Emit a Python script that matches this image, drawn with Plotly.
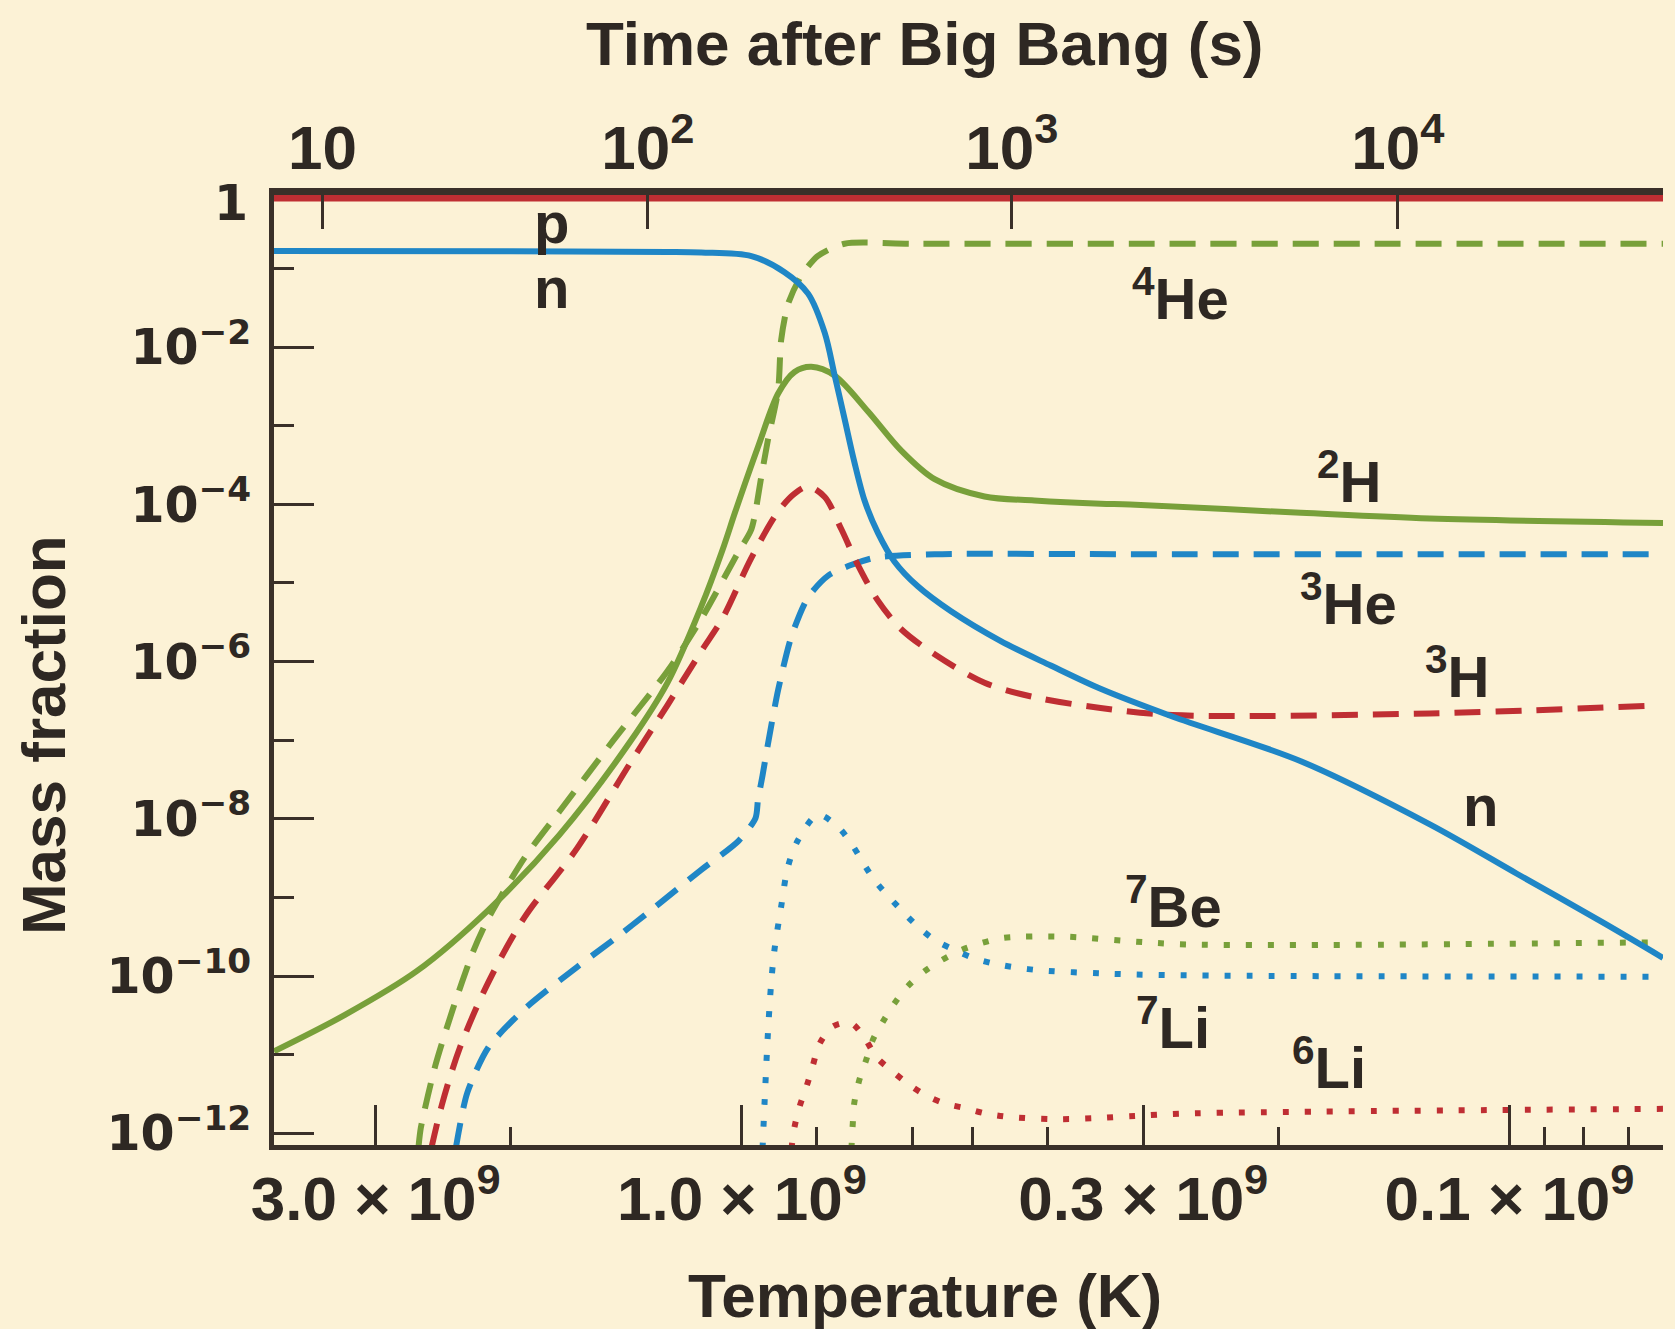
import math
import plotly.graph_objects as go

# ---------------- data (temperature in units of 1e9 K, mass fraction) ----------------
p_T9 = [4.07, 0.0631]
p_X = [0.79, 0.79]

n_T9 = [4.07, 2.0, 1.25, 1.13, 0.972, 0.880, 0.820, 0.780, 0.757, 0.735, 0.714, 0.692, 0.665,
        0.633, 0.590, 0.534, 0.460, 0.396, 0.341, 0.275, 0.187, 0.127, 0.0978, 0.0756, 0.0631]
n_X = [0.167, 0.166, 0.163, 0.160, 0.144, 0.0899, 0.0480, 0.0152, 4.34e-3, 1.23e-3, 3.52e-4,
       1.11e-4, 4.34e-5, 1.88e-5, 9.06e-6, 4.36e-6, 1.82e-6, 8.9e-7, 4.5e-7, 2.0e-7, 5.4e-8,
       8.5e-9, 2.0e-9, 4.8e-10, 1.7e-10]

he4_T9 = [2.64, 2.62, 2.51, 2.38, 2.24, 2.14, 1.92, 1.73, 1.47, 1.25, 1.13, 1.01, 0.972, 0.943,
          0.925, 0.897, 0.889, 0.871, 0.837, 0.796, 0.735, 0.60, 0.30, 0.15, 0.0631]
he4_X = [6.3e-13, 1.17e-12, 7.1e-12, 3.8e-11, 2.04e-10, 5.4e-10, 3.18e-9, 1.23e-8, 1.0e-7, 7.6e-7,
         3.47e-6, 2.51e-5, 4.82e-5, 2.32e-4, 6.6e-4, 2.85e-3, 0.0123, 0.0351, 0.0811, 0.145,
         0.207, 0.207, 0.207, 0.207, 0.207]

h2_T9 = [4.07, 3.29, 2.65, 2.14, 1.73, 1.40, 1.25, 1.13, 1.06, 1.02, 0.953, 0.897, 0.854, 0.812,
         0.757, 0.685, 0.620, 0.561, 0.483, 0.416, 0.341, 0.312, 0.187, 0.127, 0.0631]
h2_X = [1.10e-11, 3.2e-11, 1.16e-10, 6.9e-10, 6.2e-9, 9.4e-8, 5.4e-7, 5.0e-6, 2.63e-5, 8.1e-5,
        5.37e-4, 2.57e-3, 4.83e-3, 5.62e-3, 4.34e-3, 1.52e-3, 4.82e-4, 2.09e-4, 1.26e-4, 1.12e-4,
        1.02e-4, 1.0e-4, 7.8e-5, 6.6e-5, 5.8e-5]

h3_T9 = [2.54, 2.46, 2.33, 2.14, 1.92, 1.64, 1.40, 1.25, 1.13, 1.06, 0.972, 0.897, 0.854, 0.820,
         0.780, 0.742, 0.706, 0.665, 0.620, 0.561, 0.483, 0.416, 0.341, 0.275, 0.127, 0.0656]
h3_X = [6.3e-13, 2.29e-12, 1.23e-11, 8.3e-11, 5.57e-10, 4.20e-9, 5.0e-8, 2.8e-7, 1.35e-6, 3.55e-6,
        2.09e-5, 8.1e-5, 1.37e-4, 1.69e-4, 1.24e-4, 4.82e-5, 1.69e-5, 5.96e-6, 2.58e-6, 1.24e-6,
        5.37e-7, 3.53e-7, 2.57e-7, 2.09e-7, 2.19e-7, 2.75e-7]

he3_T9 = [2.36, 2.28, 2.14, 1.92, 1.64, 1.47, 1.32, 1.13, 1.01, 0.960, 0.953, 0.940, 0.925, 0.897,
          0.862, 0.820, 0.772, 0.721, 0.672, 0.561, 0.30, 0.0631]
he3_X = [6.3e-13, 3.24e-12, 1.23e-11, 3.80e-11, 1.30e-10, 2.9e-10, 6.6e-10, 2.24e-9, 5.25e-9,
         1.02e-8, 1.74e-8, 3.55e-8, 8.9e-8, 4.37e-7, 2.09e-6, 6.6e-6, 1.24e-5, 1.69e-5, 2.09e-5,
         2.32e-5, 2.32e-5, 2.32e-5]

li7_T9 = [0.940, 0.934, 0.925, 0.916, 0.907, 0.889, 0.871, 0.845, 0.796, 0.750, 0.721, 0.672, 0.620,
          0.590, 0.561, 0.529, 0.498, 0.460, 0.416, 0.341, 0.265, 0.0631]
li7_X = [6.3e-13, 2.63e-12, 1.86e-11, 8.1e-11, 2.15e-10, 7.6e-10, 2.45e-9, 5.37e-9, 1.12e-8, 7.9e-9,
         4.9e-9, 1.66e-9, 6.9e-10, 4.27e-10, 2.88e-10, 2.15e-10, 1.68e-10, 1.38e-10, 1.20e-10,
         1.08e-10, 1.02e-10, 9.8e-11]

be7_T9 = [0.720, 0.717, 0.714, 0.703, 0.689, 0.675, 0.655, 0.633, 0.608, 0.578, 0.550, 0.518, 0.488,
          0.460, 0.431, 0.376, 0.308, 0.258, 0.0631]
be7_X = [6.3e-13, 1.35e-12, 2.40e-12, 4.79e-12, 8.5e-12, 1.55e-11, 2.63e-11, 4.47e-11, 7.4e-11,
         1.15e-10, 1.58e-10, 2.14e-10, 2.61e-10, 3.02e-10, 3.16e-10, 3.16e-10, 2.74e-10, 2.51e-10,
         2.69e-10]

li6_T9 = [0.862, 0.854, 0.841, 0.824, 0.808, 0.792, 0.761, 0.721, 0.692, 0.668, 0.639, 0.608, 0.578,
          0.545, 0.513, 0.481, 0.451, 0.396, 0.348, 0.308, 0.265, 0.0631]
li6_X = [6.3e-13, 1.20e-12, 2.19e-12, 3.89e-12, 7.4e-12, 1.38e-11, 2.29e-11, 2.51e-11, 1.62e-11,
         9.3e-12, 6.3e-12, 4.27e-12, 3.09e-12, 2.40e-12, 2.09e-12, 1.78e-12, 1.62e-12, 1.51e-12,
         1.55e-12, 1.66e-12, 1.78e-12, 2.04e-12]

# axis ticks
temp_tick_T9 = [3.0, 1.0, 0.3, 0.1]
temp_tick_labels = ["3.0 × 10<sup>9</sup>", "1.0 × 10<sup>9</sup>", "0.3 × 10<sup>9</sup>", "0.1 × 10<sup>9</sup>"]
temp_minor_T9 = [2.0, 0.8, 0.6, 0.5, 0.4, 0.2, 0.09, 0.08, 0.07]
time_tick_T9 = [3.52, 1.326, 0.445, 0.1398]   # temperatures at which the time ticks sit
time_tick_labels = ["10", "10<sup>2</sup>", "10<sup>3</sup>", "10<sup>4</sup>"]
mass_tick_vals = [1, 1e-2, 1e-4, 1e-6, 1e-8, 1e-10, 1e-12]
mass_tick_labels = ["1", "10<sup>−2</sup>", "10<sup>−4</sup>", "10<sup>−6</sup>",
                    "10<sup>−8</sup>", "10<sup>−10</sup>", "10<sup>−12</sup>"]
mass_minor_vals = [1e-1, 1e-3, 1e-5, 1e-7, 1e-9, 1e-11]

# ---------------- style ----------------
BG = "#FCF2D6"
DARK = "#3a3029"
TXT = "#2e2823"
GREEN = "#78A03A"
BLUE = "#1F86C6"
RED = "#BF2E33"
DASH = "26px,15px"
DOT = "6px,16px"

def K(t9):
    return [v * 1e9 for v in t9]

fig = go.Figure()

def add(T9, X, color, dash, width, name, xaxis="x", smooth=0.9):
    fig.add_trace(go.Scatter(x=K(T9), y=X, mode="lines", name=name, xaxis=xaxis,
                             line=dict(color=color, dash=dash, width=width,
                                       shape="spline", smoothing=smooth),
                             showlegend=False, hoverinfo="skip"))

add(li6_T9, li6_X, RED, DOT, 6, "6Li")
add(be7_T9, be7_X, GREEN, DOT, 6, "7Be")
add(li7_T9, li7_X, BLUE, DOT, 6, "7Li")
add(he3_T9, he3_X, BLUE, DASH, 6, "3He", smooth=0.7)
add(h3_T9, h3_X, RED, DASH, 6, "3H")
add(he4_T9, he4_X, GREEN, DASH, 6, "4He", smooth=0.7)
add(h2_T9, h2_X, GREEN, "solid", 6, "2H")
add(n_T9, n_X, BLUE, "solid", 6, "n")
add(p_T9, p_X, RED, "solid", 7, "p", xaxis="x2")

xr = [math.log10(4.07e9), math.log10(6.31e7)]
YTOP = -0.064   # frame top sits just below 10^0 so the dark border hugs the p line

tickfont_x = dict(family="Liberation Sans", size=62, color=TXT, weight="bold")
ytickfont = dict(family="DejaVu Sans", size=49, color=TXT, weight="bold")

fig.update_layout(
    width=1675, height=1329,
    margin=dict(l=274, r=12, t=195, b=184),
    paper_bgcolor=BG, plot_bgcolor=BG,
    showlegend=False,
    xaxis=dict(type="log", range=xr, showgrid=False, zeroline=False,
               showline=True, linewidth=5, linecolor=DARK,
               tickmode="array", tickvals=K(temp_tick_T9), ticktext=temp_tick_labels,
               ticks="inside", ticklen=40, tickwidth=3, tickcolor=DARK,
               tickfont=tickfont_x, ticklabelstandoff=-4,
               minor=dict(tickmode="array", tickvals=K(temp_minor_T9), ticks="inside",
                          ticklen=18, tickwidth=3, tickcolor=DARK, showgrid=False)),
    xaxis2=dict(type="log", range=xr, overlaying="x", side="top", anchor="y",
                showgrid=False, zeroline=False,
                showline=True, linewidth=7, linecolor=DARK,
                tickmode="array", tickvals=K(time_tick_T9), ticktext=time_tick_labels,
                ticks="inside", ticklen=34, tickwidth=3, tickcolor=DARK,
                tickfont=tickfont_x, ticklabelstandoff=-6),
    yaxis=dict(type="log", range=[-12.15, YTOP], showgrid=False, zeroline=False,
               showline=True, linewidth=5, linecolor=DARK,
               tickmode="array", tickvals=mass_tick_vals[1:], ticktext=mass_tick_labels[1:],
               ticks="inside", ticklen=40, tickwidth=3, tickcolor=DARK,
               tickfont=ytickfont, ticklabelstandoff=8,
               minor=dict(tickmode="array", tickvals=mass_minor_vals, ticks="inside",
                          ticklen=20, tickwidth=3, tickcolor=DARK, showgrid=False)),
)

# the "1" label of the mass-fraction axis sits on the frame top, beside the p line
fig.add_annotation(text=mass_tick_labels[0], xref="paper", yref="paper",
                   x=-0.017, y=0.991, xanchor="right", yanchor="middle",
                   showarrow=False, font=ytickfont)

title_font = dict(family="Liberation Sans", size=62, color=TXT, weight="bold")
fig.add_annotation(text="Time after Big Bang (s)", xref="paper", yref="paper",
                   x=0.469, y=1.159, xanchor="center", yanchor="middle",
                   showarrow=False, font=title_font)
fig.add_annotation(text="Temperature (K)", xref="paper", yref="paper",
                   x=0.469, y=-0.158, xanchor="center", yanchor="middle",
                   showarrow=False, font=title_font)
fig.add_annotation(text="Mass fraction", xref="paper", yref="paper",
                   x=-0.166, y=0.432, xanchor="center", yanchor="middle",
                   showarrow=False, textangle=-90, font=title_font)

label_font = dict(family="Liberation Sans", size=58, color=TXT, weight="bold")
labels = [
    ("p", 1.77e9, 0.39),
    ("n", 1.77e9, 0.057),
    ("<sup>4</sup>He", 2.68e8, 0.047),
    ("<sup>2</sup>H", 1.62e8, 2.2e-4),
    ("<sup>3</sup>He", 1.62e8, 6.1e-6),
    ("<sup>3</sup>H", 1.17e8, 7.2e-7),
    ("n", 1.09e8, 1.46e-8),
    ("<sup>7</sup>Be", 2.74e8, 8.5e-10),
    ("<sup>7</sup>Li", 2.74e8, 2.5e-11),
    ("<sup>6</sup>Li", 1.72e8, 7.8e-12),
]
for txt, tx, my in labels:
    fig.add_annotation(text=txt, x=math.log10(tx), y=math.log10(my), xref="x", yref="y",
                       xanchor="center", yanchor="middle",
                       showarrow=False, font=label_font)

fig.write_html("out.html", config={"displayModeBar": False},
               post_script="document.body.style.margin='0px';")
